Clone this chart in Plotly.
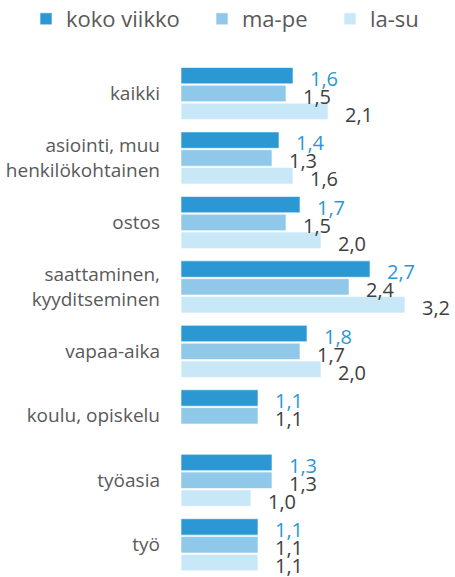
import plotly.graph_objects as go

# Matkojen keskipituus (tunteina) matkan tarkoituksen mukaan
categories = [
    "kaikki",
    "asiointi, muu<br>henkilökohtainen",
    "ostos",
    "saattaminen,<br>kyyditseminen",
    "vapaa-aika",
    "koulu, opiskelu",
    "työasia",
    "työ",
]
series_names = ["koko viikko", "ma-pe", "la-su"]
koko_viikko = [1.6, 1.4, 1.7, 2.7, 1.8, 1.1, 1.3, 1.1]
ma_pe = [1.5, 1.3, 1.5, 2.4, 1.7, 1.1, 1.3, 1.1]
la_su = [2.1, 1.6, 2.0, 3.2, 2.0, None, 1.0, 1.1]

series_values = [koko_viikko, ma_pe, la_su]
bar_colors = ["#2B98D4", "#8FC8E8", "#C8E7F7"]
label_colors = ["#2B98D4", "#404040", "#404040"]
legend_ids = ["legend", "legend2", "legend3"]
legend_x_px = [26, 202, 330]

FONT = "Open Sans"
W, H = 455, 577
M_L, M_T = 181, 57
PLOT_W = W - M_L
PX_PER_UNIT = 70.0

fig = go.Figure()
for name, vals, col, lg in zip(series_names, series_values, bar_colors, legend_ids):
    fig.add_trace(go.Bar(
        name=name,
        y=categories,
        x=vals,
        orientation="h",
        marker=dict(color=col, line=dict(color="rgba(255,255,255,0.6)", width=1)),
        legend=lg,
        hoverinfo="skip",
    ))

# value labels, offset to the right of each bar end
bar_shift = [15, -3, -21]
annotations = []
for vals, lcol, ys in zip(series_values, label_colors, bar_shift):
    for cat, v in zip(categories, vals):
        if v is None:
            continue
        annotations.append(dict(
            x=v, y=cat, xref="x", yref="y",
            text=f"{v:.1f}".replace(".", ","),
            showarrow=False, xanchor="left", yanchor="middle",
            xshift=15, yshift=ys,
            font=dict(family=FONT, size=20, color=lcol),
        ))

legend_common = dict(
    orientation="h", yanchor="middle", yref="container", y=1 - 19 / H,
    xanchor="left", xref="container",
    font=dict(family=FONT, size=22, color="#595959"),
    bgcolor="rgba(0,0,0,0)", borderwidth=0,
)
layouts = {}
for lg, px in zip(legend_ids, legend_x_px):
    layouts[lg] = dict(legend_common, x=px / W)

fig.update_layout(
    width=W, height=H,
    margin=dict(l=M_L, r=0, t=M_T, b=0, autoexpand=False),
    paper_bgcolor="white", plot_bgcolor="white",
    barmode="group", bargap=0.17, bargroupgap=0.08,
    showlegend=True,
    annotations=annotations,
    xaxis=dict(range=[0, PLOT_W / PX_PER_UNIT], visible=False, fixedrange=True),
    yaxis=dict(
        autorange="reversed", showgrid=False, zeroline=False, showline=False,
        ticks="", ticklabelstandoff=20,
        tickfont=dict(family=FONT, size=19, color="#595959"),
        fixedrange=True,
    ),
    **layouts,
)

fig.write_html("out.html")
